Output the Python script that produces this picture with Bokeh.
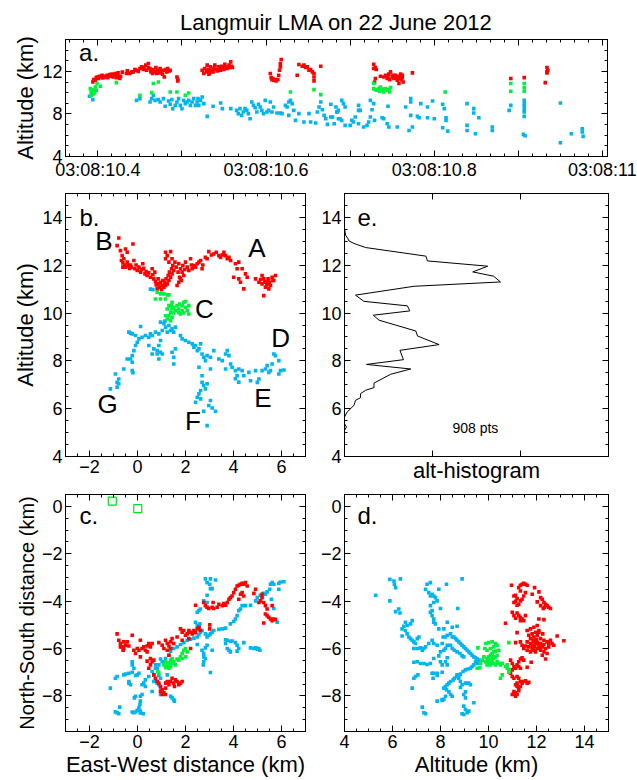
from bokeh.plotting import figure
from bokeh.layouts import column, row
from bokeh.models import Range1d, FixedTicker, LinearAxis, Label, CustomJSTickFormatter
from bokeh.embed import file_html
from bokeh.resources import INLINE

FONT = "Liberation Sans"
RED, GREEN, BLUE = "#ff0000", "#00f03c", "#00b4f0"
TITLE = "Langmuir LMA on 22 June 2012"

# ---------------- panel a: time (s after 03:08:00) vs altitude (km) ----------------
a_red = [(10.394,11.01),(10.395,11.23),(10.397,11.17),(10.398,11.39),(10.399,11.48),(10.401,11.33),(10.402,11.55),
 (10.403,11.48),(10.405,11.64),(10.406,11.39),(10.408,11.55),(10.409,11.48),(10.411,11.64),(10.412,11.42),(10.414,11.70),
 (10.415,11.55),(10.417,11.74),(10.418,11.48),(10.419,11.64),(10.421,11.80),(10.422,11.42),(10.423,11.61),(10.424,11.86),
 (10.426,11.33),(10.427,11.55),(10.429,11.93),(10.434,11.80),(10.435,12.05),(10.438,11.80),(10.440,11.93),(10.442,11.96),
 (10.444,12.18),(10.446,12.11),(10.448,11.99),(10.450,12.27),(10.452,12.43),(10.454,12.18),(10.455,12.37),(10.457,12.59),
 (10.458,12.11),(10.460,12.74),(10.460,12.37),(10.462,12.27),(10.463,11.96),(10.464,12.11),(10.465,11.80),(10.466,12.18),
 (10.468,11.96),(10.469,12.37),(10.470,11.80),(10.471,12.11),(10.473,11.86),(10.474,12.27),(10.475,11.96),(10.477,11.74),
 (10.478,12.11),(10.479,11.48),(10.481,12.18),(10.482,11.96),(10.483,12.27),(10.485,12.05),(10.486,12.11),(10.494,11.48),
 (10.495,11.26),(10.495,11.11),
 (10.524,12.11),(10.526,11.80),(10.527,12.27),(10.529,11.96),(10.530,12.59),(10.531,12.18),(10.533,11.86),(10.534,12.43),
 (10.535,12.11),(10.537,11.96),(10.538,12.27),(10.539,12.59),(10.541,12.18),(10.542,12.05),(10.543,12.43),(10.545,12.27),
 (10.546,12.11),(10.547,12.49),(10.548,12.34),(10.550,12.18),(10.551,12.68),(10.552,12.43),(10.554,12.27),(10.556,12.59),
 (10.557,12.37),(10.558,12.90),(10.559,12.49),(10.560,12.37),(10.532,11.74),
 (10.605,11.80),(10.606,11.42),(10.607,11.23),(10.608,11.33),(10.609,11.17),(10.611,11.23),(10.612,11.11),(10.614,11.23),
 (10.615,11.64),(10.616,12.11),(10.617,12.43),(10.617,12.74),(10.618,13.12),
 (10.639,12.65),(10.637,11.64),(10.643,12.49),(10.645,12.59),(10.647,12.37),(10.649,12.43),(10.651,12.11),(10.653,12.18),
 (10.655,11.96),(10.657,11.80),(10.657,11.48),(10.657,11.11),(10.665,12.49),
 (10.728,12.68),(10.728,12.27),(10.730,12.37),(10.731,12.18),(10.730,11.33),(10.729,11.01),(10.736,11.55),(10.740,11.48),
 (10.742,11.64),(10.744,11.33),(10.745,11.48),(10.746,11.74),(10.747,11.23),(10.748,11.96),(10.750,11.48),(10.751,11.64),
 (10.752,11.33),(10.754,11.64),(10.755,11.42),(10.756,11.17),(10.757,11.55),(10.758,11.48),(10.759,11.33),(10.760,11.74),
 (10.761,11.23),(10.762,11.64),(10.763,11.01),(10.758,10.86),(10.762,11.42),(10.774,11.86),
 (10.891,11.33),(10.907,11.42),(10.934,12.37),(10.935,12.11),(10.934,11.96),(10.934,11.86),(10.932,10.95)]
a_grn = [(10.391,10.38),(10.392,10.07),(10.393,10.23),(10.394,9.85),(10.392,9.76),(10.395,10.29),(10.396,9.97),
 (10.397,10.54),(10.398,10.23),(10.399,10.86),(10.403,10.60),(10.422,10.95),(10.450,9.76),(10.464,10.01),(10.466,10.86),
 (10.472,11.01),(10.486,10.07),(10.494,10.07),(10.504,9.76),(10.508,9.97),(10.629,10.07),(10.657,10.29),(10.665,9.82),
 (10.728,10.86),(10.728,10.38),(10.730,10.29),(10.732,10.23),(10.734,10.38),(10.735,10.13),(10.736,10.54),(10.738,10.23),
 (10.739,10.35),(10.740,10.07),(10.742,10.38),(10.744,10.23),(10.746,10.29),(10.747,10.07),(10.748,10.48),(10.813,10.07),
 (10.891,10.86),(10.891,10.13),(10.907,10.86),(10.907,10.48),(10.907,10.13)]
a_blu = [(10.390,9.66),(10.394,9.35),(10.446,9.28),(10.450,9.44),(10.464,9.44),(10.466,9.76),(10.462,9.13),(10.468,9.28),
 (10.472,9.35),(10.474,9.13),(10.478,9.44),(10.480,8.72),(10.484,9.22),(10.486,8.91),(10.488,9.35),(10.489,8.50),
 (10.492,8.81),(10.494,9.13),(10.496,9.44),(10.498,8.81),(10.500,8.50),(10.502,9.28),(10.504,8.97),(10.506,9.13),
 (10.508,9.28),(10.510,8.81),(10.512,9.13),(10.514,9.44),(10.516,8.81),(10.518,9.13),(10.520,8.81),(10.522,9.28),
 (10.524,9.60),(10.526,8.97),(10.519,9.44),(10.530,7.77),(10.537,8.72),(10.546,9.03),(10.548,8.50),(10.558,8.50),
 (10.565,8.34),(10.567,8.03),(10.569,8.50),(10.571,7.87),(10.573,8.18),(10.575,8.50),(10.577,8.34),(10.579,8.03),
 (10.581,7.55),(10.583,9.13),(10.585,8.81),(10.587,8.59),(10.589,8.18),(10.591,8.91),(10.593,8.65),(10.595,8.34),
 (10.597,8.03),(10.599,9.28),(10.601,8.18),(10.603,8.34),(10.605,9.13),(10.607,8.18),(10.609,8.65),(10.613,8.09),
 (10.617,8.09),(10.619,8.03),(10.623,8.81),(10.625,8.65),(10.627,9.13),(10.629,9.28),(10.631,8.97),(10.627,7.87),
 (10.633,8.34),(10.635,7.40),(10.639,8.03),(10.645,7.24),(10.651,8.03),(10.653,7.24),(10.659,7.15),(10.661,8.18),
 (10.663,8.65),(10.665,9.13),(10.667,8.40),(10.669,7.87),(10.671,7.55),(10.673,7.02),(10.677,7.71),(10.681,7.08),
 (10.683,8.65),(10.685,8.18),(10.686,7.55),
 (10.677,8.91),(10.679,7.71),(10.684,8.18),(10.686,8.34),(10.688,7.55),(10.690,9.28),(10.692,8.97),(10.694,8.65),
 (10.690,7.40),(10.694,6.93),(10.700,6.93),(10.702,7.40),(10.704,7.24),(10.706,7.71),(10.710,8.81),(10.710,8.34),
 (10.710,7.08),(10.712,8.34),(10.716,6.77),(10.720,6.93),(10.722,7.24),(10.724,7.71),(10.724,9.28),(10.726,8.40),
 (10.728,8.97),(10.729,7.40),(10.738,7.65),(10.740,7.55),(10.744,7.08),(10.745,8.72),(10.746,6.77),(10.756,6.77),
 (10.766,8.65),(10.770,6.45),(10.772,7.87),(10.774,6.77),(10.772,9.44),(10.772,9.13),(10.780,7.77),(10.782,7.65),
 (10.784,8.97),(10.792,8.65),(10.792,7.65),(10.798,9.22),(10.800,7.55),(10.810,8.91),(10.812,8.50),(10.814,7.40),
 (10.814,7.65),(10.810,6.71),(10.816,6.39),(10.839,8.97),(10.847,8.50),(10.847,8.09),(10.853,7.65),(10.839,6.93),
 (10.839,6.45),(10.849,6.14),(10.869,6.77),(10.869,6.45),(10.891,8.81),(10.889,8.34),(10.907,9.28),(10.907,8.97),
 (10.907,8.72),(10.907,8.40),(10.907,8.18),(10.907,7.77),(10.906,6.08),(10.908,5.95),(10.950,9.03),(10.950,5.29),
 (10.963,6.14),(10.976,6.61),(10.976,6.30),(10.977,5.89)]

# ---------------- panel b: East-West (km) vs altitude (km) ----------------
b_red = [(-0.78,13.14),(-0.19,12.89),(-0.85,12.82),(-0.71,12.61),(-0.50,12.68),(-0.43,12.54),(-0.64,12.40),(-0.57,12.27),
 (-0.67,12.20),(-0.61,12.10),(-0.53,12.01),(-0.50,11.92),(-0.61,11.92),(-0.43,12.13),(-0.39,11.99),(-0.33,11.87),
 (-0.29,12.01),(-0.25,11.92),(-0.15,12.20),(-0.11,11.85),(-0.06,12.01),(-0.01,11.78),(0.06,11.92),(0.13,11.71),
 (0.17,11.82),(0.22,12.06),(0.26,11.87),(0.31,11.64),(0.36,11.74),(0.40,11.57),(0.47,11.68),(0.54,11.50),(0.61,11.85),
 (0.64,11.60),(0.68,11.43),(0.72,11.71),(0.75,11.32),(0.78,11.18),(0.82,11.01),(0.86,11.43),(0.89,11.22),(0.92,11.08),
 (0.96,11.29),(1.00,10.98),(1.03,11.15),(1.06,11.36),(1.10,11.08),(1.14,11.26),(1.17,11.15),(1.19,11.43),(1.24,11.22),
 (1.28,11.57),(1.31,11.36),(1.33,11.71),(1.38,11.50),(1.42,11.85),(1.44,11.64),(1.47,11.99),(1.51,11.78),(1.56,12.13),
 (1.17,12.54),(1.24,12.40),(1.38,12.57),(1.17,12.27),(1.31,12.13),(1.44,12.27),(1.61,11.92),(1.69,11.71),(1.72,12.06),
 (1.75,11.50),(1.79,11.85),(1.83,11.36),(1.86,11.71),(1.89,11.99),(1.93,11.57),(1.79,11.43),(1.72,11.29),(1.65,11.15),
 (1.97,11.82),(2.00,12.13),(2.07,11.92),(2.14,11.78),(2.21,12.27),(2.25,12.01),(2.28,11.85),(2.35,11.99),(2.42,11.92),
 (2.49,12.06),(2.56,12.13),(2.63,12.20),(2.69,11.85),(2.72,12.01),(2.83,12.33),(2.90,12.27),(2.97,12.57),(3.08,12.43),
 (3.18,12.47),(3.28,12.54),(3.39,12.40),(3.46,12.33),(3.53,12.43),(3.60,12.54),(3.67,12.40),(3.74,12.27),(3.81,12.33),
 (3.88,12.20),(4.08,12.06),(4.22,12.13),(4.36,11.85),(4.15,11.85),(4.01,11.50),(4.22,11.43),(4.29,11.29),(4.43,11.01),
 (4.57,11.50),(4.50,11.64),(4.92,11.43),(5.06,11.29),(5.13,11.40),(5.19,11.57),(5.26,11.43),(5.31,11.32),(5.33,11.29),
 (5.38,11.18),(5.40,11.22),(5.44,11.43),(5.47,11.36),(5.50,11.26),(5.54,11.15),(5.61,11.50),(5.64,11.36),(5.68,11.36),
 (5.75,11.57),(5.33,11.08),(5.26,10.73),(5.47,11.01),(5.19,11.22)]
b_grn = [(0.82,10.87),(0.96,10.80),(1.10,10.80),(1.24,10.76),(1.31,10.76),(0.75,10.59),(0.96,10.59),(1.17,10.59),
 (1.44,10.45),(1.31,10.31),(1.24,10.17),(1.38,10.03),(1.31,9.89),(1.17,9.89),(1.24,9.75),(1.44,10.17),(1.51,10.24),
 (1.58,10.10),(1.72,10.17),(1.86,10.31),(1.93,10.45),(2.00,10.24),(2.07,10.10),(1.79,9.96),(1.93,10.00),(2.14,10.31),
 (2.14,9.96),(1.72,10.03),(1.86,10.10),(1.65,10.31),(1.44,9.82),(1.38,9.68),(1.51,10.00),(1.42,10.31),(2.00,10.48),
 (1.75,10.38)]
b_blu = [(0.54,11.00),(0.64,10.98),(0.96,9.62),(1.10,9.55),(1.17,9.41),(1.31,9.48),(1.44,9.34),(1.51,9.20),(1.58,9.41),
 (1.03,9.27),(1.24,9.20),(0.89,9.13),(0.75,9.20),(0.61,9.06),(0.47,8.99),(0.33,9.06),(0.19,8.99),(0.06,8.92),
 (-0.08,9.06),(-0.22,9.13),(-0.36,9.20),(-0.29,9.16),(0.13,9.44),(0.54,9.13),(1.38,9.27),(1.14,9.66),(-0.01,8.78),
 (-0.08,8.64),(-0.15,8.43),(-0.22,8.22),(-0.29,8.08),(-0.22,7.94),(-0.43,8.08),(-0.57,7.66),(-0.22,7.59),(-0.19,7.50),
 (-0.92,7.45),(-0.78,7.24),(-0.85,7.10),(-0.78,7.04),(-1.13,6.83),(-0.85,6.90),(0.96,8.85),(0.89,8.64),(0.82,8.43),
 (0.96,8.36),(0.82,8.29),(1.03,8.29),(0.89,8.08),(0.61,8.29),(0.47,8.64),(0.68,8.50),(1.44,8.36),(1.51,8.15),(1.51,7.87),
 (1.58,8.50),(1.79,9.06),(1.86,8.92),(2.00,8.85),(2.14,8.78),(2.28,8.71),(2.35,8.57),(2.42,8.64),(2.56,8.50),(2.63,8.71),
 (2.49,8.43),(2.69,8.29),(2.76,8.15),(2.90,8.22),(3.04,8.15),(3.18,8.43),(2.83,8.01),(2.56,7.73),(3.04,7.66),(3.39,8.08),
 (3.53,8.01),(3.67,8.29),(3.81,8.22),(3.74,8.43),(3.67,7.66),(3.88,7.87),(3.94,7.73),(4.08,7.59),(4.22,7.66),(4.15,7.38),
 (4.22,7.11),(4.08,7.25),(4.36,7.59),(4.43,7.38),(4.64,7.52),(4.71,7.17),(4.92,7.59),(4.99,7.10),(5.06,7.24),(5.19,7.59),
 (5.33,7.66),(5.40,7.80),(5.47,7.52),(5.54,7.59),(5.61,7.87),(5.68,8.29),(5.75,8.22),(5.89,8.01),(5.96,7.59),(6.10,7.62),
 (5.89,7.45),(2.69,7.38),(2.69,7.10),(2.76,6.97),(2.83,6.83),(2.90,7.04),(2.63,6.76),(2.56,6.62),(2.49,6.48),(2.63,6.41),
 (2.42,6.27),(3.04,6.34),(2.97,6.13),(3.11,6.03),(3.25,5.89),(2.76,5.89),(2.90,5.29)]

# ---------------- panel e: altitude histogram ----------------
hist_alt = [13.54, 13.26, 13.12, 13.02, 12.91, 12.74, 12.38, 12.18, 11.96, 11.72, 11.54, 11.30, 11.12, 10.75, 10.49,
            10.30, 10.09, 9.91, 9.70, 9.25, 9.04, 8.68, 8.44, 8.05, 7.85, 7.66, 7.44, 7.07, 6.88, 6.77, 6.63, 6.46,
            6.35, 6.14, 5.86, 5.65, 5.37, 5.23, 5.09, 4.00]
hist_count = [0, 0.5, 1.5, 2.0, 4.3, 9.6, 37.0, 37.7, 65.1, 58.3, 67.8, 70.9, 31.6, 5.0, 8.8,
              28.6, 29.7, 13.1, 15.7, 32.4, 33.2, 43.0, 25.2, 26.8, 10.0, 30.1, 21.0, 13.4, 13.4, 9.6, 7.3, 7.3,
              5.0, 4.3, 1.2, 0, 0, 0.9, 0, 0]
n_points = 908

# ---------------- panel c: East-West vs North-South (km) ----------------
c_red = [(-0.85,-5.38),(-0.78,-5.65),(-0.71,-5.79),(-0.64,-5.93),(-0.57,-6.00),(-0.50,-5.86),(-0.43,-5.72),(-0.36,-5.89),
 (-0.57,-5.72),(-0.71,-5.93),(-0.60,-6.07),(-0.22,-5.44),(-0.15,-6.07),(-0.08,-6.21),(-0.01,-6.00),(0.06,-6.07),
 (0.12,-5.65),(0.19,-6.00),(0.26,-5.93),(0.33,-6.07),(0.40,-5.89),(0.47,-5.79),(0.54,-5.93),(0.40,-6.14),(0.61,-5.79),
 (0.12,-6.35),(0.40,-6.53),(0.54,-6.42),(0.61,-6.56),(0.68,-6.49),(0.54,-6.69),(0.47,-6.83),(0.89,-5.75),(1.03,-5.86),
 (1.10,-6.00),(1.17,-5.65),(1.24,-5.79),(1.31,-5.89),(1.38,-5.72),(1.44,-5.58),(1.24,-6.07),(1.38,-6.00),(1.51,-5.79),
 (1.31,-6.28),(1.79,-5.17),(1.86,-5.31),(1.93,-5.24),(2.00,-5.44),(2.07,-5.38),(2.14,-5.24),(2.21,-5.31),(2.28,-5.38),
 (2.35,-5.24),(2.42,-5.33),(2.49,-5.17),(2.56,-5.10),(2.62,-5.24),(2.14,-5.58),(1.86,-5.65),(1.65,-5.51),(2.21,-6.00),
 (3.01,-5.00),(3.01,-5.17),(0.68,-7.11),(0.75,-7.25),(0.82,-7.39),(0.89,-7.46),(0.96,-7.60),(1.03,-7.74),(1.10,-7.87),
 (1.17,-7.94),(1.03,-7.94),(0.96,-7.81),(1.17,-7.46),(1.31,-7.53),(1.38,-7.39),(1.51,-7.46),(1.58,-7.32),(1.65,-7.39),
 (1.72,-7.53),(1.79,-7.46),(1.86,-7.39),(1.54,-7.60),(1.44,-7.25),(1.17,-7.67),(1.24,-7.39),(2.42,-4.17),(2.76,-4.06),
 (2.83,-4.19),(2.90,-4.26),(2.97,-4.31),(3.11,-4.26),(3.18,-4.31),(3.32,-4.26),(3.39,-4.13),(3.53,-4.19),(3.60,-4.10),
 (3.67,-4.17),(3.74,-4.06),(3.81,-3.92),(3.87,-3.85),(3.94,-3.78),(4.01,-3.64),(4.08,-3.50),(4.15,-3.36),(4.22,-3.33),
 (4.29,-3.29),(4.36,-3.25),(4.43,-3.29),(4.50,-3.22),(4.57,-3.36),(4.22,-3.92),(4.29,-3.71),(4.36,-3.64),(4.43,-3.78),
 (3.15,-4.06),(4.85,-3.67),(4.92,-3.50),(5.06,-4.06),(5.12,-3.99),(5.19,-3.85),(5.26,-4.06),(5.33,-4.19),(5.40,-4.33),
 (5.33,-4.54),(5.40,-4.61),(5.47,-4.68),(5.54,-4.75),(5.61,-4.82),(5.68,-4.75),(5.75,-4.78),(5.26,-4.92),(5.61,-4.19),
 (5.19,-3.71)]
c_grn = [(1.10,-6.69),(1.17,-6.56),(1.24,-6.76),(1.31,-6.62),(1.38,-6.49),(1.44,-6.62),(1.51,-6.56),(1.38,-6.76),
 (1.31,-6.83),(1.17,-6.81),(1.58,-6.69),(1.72,-6.49),(1.79,-6.35),(1.86,-6.21),(1.93,-6.07),(2.00,-6.00),(2.07,-6.14),
 (2.00,-6.35),(1.86,-6.42),(0.89,-7.04),(0.85,-6.97),(1.65,-6.44),(1.24,-6.62),(1.44,-6.42)]
c_blu = [(0.61,-6.97),(0.75,-6.83),(0.89,-6.69),(1.03,-6.56),(1.17,-6.42),(1.31,-6.28),(1.38,-6.11),(1.51,-6.00),
 (1.65,-5.93),(1.79,-5.83),(1.93,-5.75),(2.07,-5.65),(2.21,-5.61),(2.35,-5.56),(2.49,-5.51),(2.56,-5.42),(2.62,-5.31),
 (2.69,-5.24),(2.56,-5.10),(2.49,-5.03),(2.60,-4.96),(2.42,-4.89),(2.49,-4.47),(2.62,-4.33),(2.56,-4.40),(2.83,-5.38),
 (2.90,-5.51),(2.97,-5.44),(3.04,-5.38),(3.11,-5.31),(3.18,-5.24),(3.39,-5.19),(3.53,-5.17),(3.67,-5.14),(3.87,-4.96),
 (4.01,-4.86),(4.08,-4.75),(4.15,-4.61),(4.22,-4.40),(4.29,-4.33),(4.36,-4.19),(4.50,-4.19),(4.71,-4.17),(4.92,-3.99),
 (4.99,-3.85),(5.12,-3.75),(5.24,-3.67),(5.33,-3.71),(5.40,-3.61),(5.51,-3.50),(5.54,-3.29),(5.61,-3.22),(5.68,-3.29),
 (5.89,-3.25),(5.96,-3.19),(6.10,-3.18),(5.89,-3.50),(5.58,-3.92),(5.68,-4.31),(5.82,-4.89),(2.83,-3.06),(3.04,-3.06),
 (3.25,-3.11),(2.90,-3.22),(3.01,-3.29),(3.04,-3.47),(3.11,-3.47),(2.90,-3.75),(2.76,-3.99),(2.90,-4.06),(3.67,-5.63),
 (3.74,-5.65),(3.87,-5.69),(3.94,-5.68),(4.08,-5.75),(4.15,-5.86),(4.22,-6.00),(4.15,-6.11),(3.67,-5.79),(3.74,-6.00),
 (3.81,-6.07),(3.87,-6.14),(4.43,-5.75),(4.71,-5.97),(4.85,-6.00),(4.92,-5.97),(4.99,-6.03),(5.05,-6.00),(5.10,-6.07),
 (2.69,-6.07),(2.76,-6.21),(2.76,-6.35),(2.83,-6.42),(2.76,-6.56),(2.74,-6.69),(2.83,-5.97),(2.90,-5.86),(3.04,-7.01),
 (3.11,-6.07),(2.49,-5.83),(0.96,-6.44),(0.75,-6.69),(0.82,-6.83),(0.68,-7.11),(0.75,-7.32),(0.82,-7.46),(0.89,-7.53),
 (0.96,-7.67),(1.03,-7.81),(0.96,-7.94),(0.61,-7.81),(0.68,-7.39),(0.47,-7.18),(0.33,-7.32),(0.26,-7.46),(0.33,-7.60),
 (0.19,-7.53),(0.06,-7.04),(-0.01,-7.11),(-0.08,-7.14),(-0.22,-7.00),(-0.36,-7.04),(-0.50,-7.08),(-0.57,-7.11),
 (-0.85,-7.18),(-0.92,-7.25),(-1.13,-7.67),(-0.36,-7.46),(-0.29,-7.53),(-0.36,-7.39),(-0.22,-6.56),(-0.22,-6.69),
 (-0.15,-6.83),(0.19,-7.94),(0.12,-8.01),(-0.08,-8.01),(-0.13,-8.08),(0.12,-8.22),(0.10,-8.36),(0.06,-8.50),(0.12,-8.64),
 (-0.74,-8.47),(-0.92,-8.67),(-0.85,-8.71),(-0.78,-8.75),(-0.22,-8.68),(-0.15,-8.71),(-0.08,-8.68),(-0.01,-8.61),
 (0.12,-8.72),(0.24,-8.75),(1.38,-8.01),(1.44,-8.08),(1.51,-8.15),(1.54,-8.22),(1.24,-7.11),(0.89,-7.14),(0.96,-7.25)]
c_stations = [(-1.05, 0.22), (0.01, -0.10), (-0.64, 0.68)]

# ---------------- panel d: altitude vs North-South (km) ----------------
d_red = [(10.96,-3.33),(11.06,-3.78),(11.13,-3.75),(11.19,-3.89),(11.06,-4.06),(11.13,-4.01),(11.19,-4.17),(11.26,-4.13),
 (11.33,-3.99),(11.40,-3.92),(11.47,-3.78),(11.54,-3.64),(11.33,-3.57),(11.26,-3.43),(11.33,-3.33),(11.40,-3.29),
 (11.47,-3.25),(11.54,-3.29),(11.61,-3.33),(11.92,-3.43),(12.10,-3.61),(12.17,-3.85),(12.24,-3.92),(12.31,-4.06),
 (12.38,-4.13),(12.44,-4.19),(12.51,-4.26),(12.58,-4.31),(12.33,-4.26),(12.17,-4.19),(12.28,-4.31),(12.03,-4.03),
 (11.82,-3.71),(10.99,-4.47),(11.06,-4.61),(11.13,-4.72),(11.19,-4.50),(11.26,-4.61),(11.33,-4.68),(11.40,-4.75),
 (11.47,-4.82),(11.33,-4.82),(11.54,-4.61),(12.10,-4.75),(12.31,-4.78),(10.71,-4.93),(11.19,-5.33),(11.61,-5.24),
 (11.75,-5.17),(11.89,-5.10),(12.03,-5.03),(12.10,-5.24),(11.96,-5.31),(11.82,-5.38),(11.68,-5.44),(11.75,-5.58),
 (11.89,-5.51),(12.03,-5.44),(12.17,-5.58),(12.31,-5.65),(12.44,-5.72),(12.58,-5.65),(12.65,-5.79),(12.51,-5.93),
 (12.38,-6.00),(12.24,-5.93),(12.10,-5.86),(11.96,-5.79),(11.82,-5.86),(11.68,-5.93),(11.54,-5.89),(11.40,-5.86),
 (11.47,-6.00),(11.61,-6.07),(11.75,-6.14),(11.89,-6.07),(12.03,-6.00),(12.17,-6.07),(12.31,-6.14),(12.44,-6.21),
 (12.24,-6.28),(12.38,-6.44),(12.51,-5.79),(12.72,-5.86),(12.86,-5.47),(13.14,-5.67),(12.10,-5.31),(12.26,-5.38),
 (11.13,-5.75),(11.33,-5.72),(11.61,-5.72),(11.86,-5.65),(12.00,-5.61),(11.89,-5.72),(12.03,-5.75),(12.17,-5.79),
 (12.31,-5.83),(11.75,-5.79),(11.92,-5.93),(12.14,-5.97),(11.82,-6.00),(11.96,-6.14),(10.92,-6.49),(10.99,-6.63),
 (11.06,-6.76),(11.13,-6.83),(11.19,-6.69),(11.26,-6.56),(11.33,-6.44),(11.40,-6.39),(11.47,-6.49),(11.26,-6.76),
 (11.33,-6.83),(11.61,-6.79),(11.78,-6.58),(10.99,-6.90),(10.92,-7.04),(10.99,-7.18),(11.06,-7.25),(11.19,-7.18),
 (11.26,-7.25),(11.33,-7.39),(11.40,-7.46),(11.47,-7.39),(11.54,-7.36),(11.61,-7.46),(11.68,-7.42),(11.19,-7.46),
 (11.13,-7.53),(11.19,-7.60),(11.26,-7.67),(11.33,-7.60),(11.06,-7.81),(11.13,-7.87),(11.19,-7.94),(11.06,-7.92),
 (10.99,-7.94),(11.13,-8.01),(11.26,-7.78)]
d_grn = [(9.88,-5.79),(10.01,-5.75),(10.15,-5.72),(10.29,-5.79),(10.36,-5.86),(10.22,-5.93),(10.08,-6.00),(9.94,-6.07),
 (9.85,-6.00),(9.56,-5.97),(9.81,-6.35),(9.94,-6.42),(10.01,-6.35),(10.08,-6.28),(10.15,-6.21),(10.22,-6.14),
 (10.29,-6.11),(10.43,-6.07),(10.36,-6.28),(10.29,-6.35),(10.22,-6.42),(10.15,-6.49),(10.08,-6.56),(10.01,-6.63),
 (9.94,-6.69),(10.08,-6.69),(10.22,-6.63),(10.29,-6.69),(10.36,-6.56),(10.43,-6.63),(10.50,-6.69),(10.57,-6.62),
 (9.74,-6.49),(9.67,-6.63),(9.64,-6.81),(9.88,-6.56),(10.85,-5.75),(10.78,-6.69),(10.71,-6.76),(10.78,-6.83),
 (10.85,-6.90),(10.85,-7.00),(10.57,-7.11),(10.50,-7.25),(9.53,-6.83),(10.01,-6.49),(10.15,-6.35)]
d_blu = [(5.30,-3.75),(5.89,-3.08),(6.06,-3.15),(6.08,-3.29),(6.13,-3.43),(6.33,-3.06),(5.89,-3.99),(6.13,-4.44),
 (6.26,-4.33),(6.31,-4.50),(6.54,-4.89),(6.61,-5.03),(6.47,-5.06),(6.40,-5.17),(6.54,-5.24),(6.61,-5.38),(6.75,-4.96),
 (6.82,-4.82),(6.40,-5.47),(6.68,-5.51),(6.75,-5.58),(6.82,-5.65),(6.89,-5.72),(6.96,-5.79),(7.03,-5.58),(7.10,-5.51),
 (6.89,-6.00),(7.03,-6.00),(7.17,-5.97),(7.31,-6.00),(7.24,-6.07),(7.38,-5.93),(7.51,-5.79),(7.65,-5.65),(7.72,-5.79),
 (7.86,-5.86),(7.03,-6.56),(6.89,-6.58),(7.17,-6.63),(7.31,-6.63),(7.44,-6.67),(7.58,-6.63),(7.72,-6.42),(7.65,-7.04),
 (7.86,-7.04),(8.07,-7.00),(8.07,-6.69),(8.00,-6.56),(7.93,-6.31),(8.00,-6.14),(8.14,-6.07),(8.21,-6.00),(8.28,-5.86),
 (8.07,-5.79),(8.11,-5.51),(8.21,-5.51),(8.28,-5.44),(8.42,-5.38),(8.49,-5.51),(8.56,-5.51),(8.63,-5.58),(8.69,-5.65),
 (8.76,-5.72),(8.83,-5.79),(8.90,-5.86),(8.97,-5.93),(9.04,-6.00),(9.11,-6.07),(9.18,-6.14),(9.25,-6.21),(9.32,-6.28),
 (9.39,-6.35),(9.46,-6.39),(9.53,-6.44),(9.60,-6.49),(9.46,-6.56),(9.53,-6.63),(9.39,-6.69),(9.32,-6.76),(9.25,-6.83),
 (9.14,-6.86),(9.04,-6.90),(8.94,-6.97),(8.83,-7.08),(8.76,-7.14),(8.67,-7.18),(8.58,-7.25),(8.53,-7.32),(8.42,-7.39),
 (8.35,-7.46),(8.28,-7.53),(8.21,-7.60),(8.14,-7.67),(8.25,-7.74),(8.35,-7.83),(8.42,-7.94),(8.49,-8.01),(8.21,-8.01),
 (8.14,-8.15),(8.07,-8.15),(8.69,-7.11),(8.83,-7.39),(8.90,-7.53),(9.04,-7.46),(9.18,-7.46),(9.25,-7.53),(8.83,-7.64),
 (8.76,-7.25),(9.04,-7.83),(8.97,-7.94),(9.04,-8.08),(9.39,-8.29),(8.97,-8.43),(9.04,-8.57),(9.18,-8.64),(9.11,-8.71),
 (8.97,-8.78),(8.90,-8.75),(7.24,-8.47),(7.31,-8.71),(7.38,-8.75),(7.86,-8.22),(8.07,-8.19),(6.89,-7.25),(6.96,-7.18),
 (7.06,-7.11),(6.82,-7.67),(7.72,-7.04),(7.69,-7.25),(7.86,-7.14),(8.25,-3.29),(8.72,-4.31),(7.58,-3.22),(7.44,-3.29),
 (7.38,-3.50),(7.51,-3.64),(7.65,-3.71),(7.72,-3.78),(7.58,-3.78),(7.79,-3.85),(7.86,-3.99),(7.72,-4.06),(7.58,-4.19),
 (7.65,-4.40),(7.58,-4.47),(7.65,-4.61),(7.72,-4.75),(7.72,-4.89),(7.79,-4.96),(7.93,-5.17),(8.14,-5.17),(8.28,-4.89),
 (8.00,-4.31),(8.49,-5.10),(8.69,-5.06),(8.90,-3.06),(7.93,-3.50),(8.42,-5.86),(8.49,-6.00),(8.58,-6.07),(8.69,-6.14),
 (8.81,-6.21),(8.90,-6.31),(8.97,-6.35),(8.28,-6.39),(8.21,-6.56),(8.28,-6.69)]

# letters marking branches in panel b
b_letters = ["A", "B", "C", "D", "E", "F", "G"]
b_letter_x = [4.98, -1.40, 2.79, 5.96, 5.23, 2.31, -1.25]
b_letter_y = [12.70, 13.03, 10.19, 8.97, 6.46, 5.50, 6.21]


def xs(pts):
    return [p[0] for p in pts]


def ys(pts):
    return [p[1] for p in pts]


def steps(lo, hi, step):
    n = int(round((hi - lo) / step))
    return [round(lo + i * step, 5) for i in range(n + 1)]


def make_fig(fw, fh, xr, yr, bl, br, bt, bb):
    p = figure(frame_width=fw, frame_height=fh, x_range=Range1d(*xr), y_range=Range1d(*yr),
               min_border_left=bl, min_border_right=br, min_border_top=bt, min_border_bottom=bb,
               toolbar_location=None, output_backend="svg", tools="")
    p.grid.visible = False
    p.outline_line_color = "black"
    p.outline_line_width = 1
    p.outline_line_alpha = 1
    p.background_fill_color = "white"
    p.border_fill_color = "white"
    return p


def style_axis(ax, major, minor, label=None, label_size="22px"):
    ax.ticker = FixedTicker(ticks=major, minor_ticks=minor)
    ax.major_tick_in = 6
    ax.major_tick_out = 0
    ax.minor_tick_in = 3
    ax.minor_tick_out = 0
    ax.axis_line_color = "black"
    ax.major_tick_line_color = "black"
    ax.minor_tick_line_color = "black"
    ax.major_label_text_font = FONT
    ax.major_label_text_color = "black"
    ax.major_label_text_font_size = "18px"
    ax.major_label_standoff = 3
    ax.axis_label_text_font = FONT
    ax.axis_label_text_font_size = label_size
    ax.axis_label_text_font_style = "normal"
    ax.axis_label_text_color = "black"
    ax.axis_label_standoff = 1
    if label:
        ax.axis_label = label


def tick_axis(positions, length):
    # an axis that draws only inward tick marks (no labels at all)
    return LinearAxis(ticker=FixedTicker(ticks=[], minor_ticks=positions),
                      minor_tick_in=length, minor_tick_out=0, major_tick_in=0, major_tick_out=0,
                      major_label_standoff=0, axis_line_color="black", minor_tick_line_color="black")


def mirror(p, side, major, minor):
    p.add_layout(tick_axis(major, 6), side)
    p.add_layout(tick_axis(minor, 3), side)


def dots(p, pts, color):
    p.scatter(xs(pts), ys(pts), marker="square", size=3.6, fill_color=color, line_color=None)


def tag(p, x, y, text, size="24px"):
    p.add_layout(Label(x=x, y=y, text=text, text_font=FONT, text_font_size=size,
                       text_align="left", text_baseline="middle", text_color="black"))


ALT_MAJ, ALT_MIN = steps(4, 14, 2), steps(4, 15, 0.5)
EW_MAJ, EW_MIN = steps(-2, 6, 2), steps(-3, 7, 0.5)
NS_MAJ, NS_MIN = steps(-8, 0, 2), steps(-9.5, 0.5, 0.5)
T_MAJ = steps(10.4, 11.0, 0.1)
T_LAB = steps(10.4, 11.0, 0.2)
T_MIN = [round(10.4 + k / 60, 5) for k in range(-2, 37)]

# ---- a ----
pa = make_fig(542, 117, (10.3615, 11.006), (4, 15), 65, 30, 39, 35)
style_axis(pa.below[0], T_LAB, T_MIN)
pa.below[0].formatter = CustomJSTickFormatter(code="""
const k = Math.round(tick * 10);
if (k == 110) return '03:08:11';
return '03:08:' + (k / 10).toFixed(1);
""")
mid_ticks = tick_axis([t for t in T_MAJ if t not in T_LAB], 6)
pa.add_layout(mid_ticks, "below")
pa.below = [mid_ticks] + [a for a in pa.below if a is not mid_ticks]
style_axis(pa.left[0], [4, 8, 12], [5, 6, 7, 9, 10, 11, 13, 14, 15], "Altitude (km)")
mirror(pa, "above", T_MAJ, T_MIN)
mirror(pa, "right", [4, 8, 12], [5, 6, 7, 9, 10, 11, 13, 14, 15])
pa.title.text = TITLE
pa.title.align = "center"
pa.title.text_font = FONT
pa.title.text_font_size = "22px"
pa.title.text_font_style = "normal"
pa.title.text_color = "black"
pa.title.standoff = 9
dots(pa, a_blu, BLUE)
dots(pa, a_red, RED)
dots(pa, a_grn, GREEN)
tag(pa, 10.3777, 13.81, "a.")

# ---- b ----
pb = make_fig(240, 263, (-3, 7), (4, 15), 65, 5, 2, 36)
style_axis(pb.below[0], EW_MAJ, EW_MIN)
style_axis(pb.left[0], ALT_MAJ, ALT_MIN, "Altitude (km)")
mirror(pb, "above", EW_MAJ, EW_MIN)
mirror(pb, "right", ALT_MAJ, ALT_MIN)
dots(pb, b_blu, BLUE)
dots(pb, b_red, RED)
dots(pb, b_grn, GREEN)
tag(pb, -2.42, 14.0, "b.")
for t, x, y in zip(b_letters, b_letter_x, b_letter_y):
    pb.add_layout(Label(x=x, y=y, text=t, text_font=FONT, text_font_size="26px",
                        text_align="center", text_baseline="middle", text_color="black"))

# ---- e ----
pe = make_fig(264, 263, (0, 120), (4, 15), 34, 29, 2, 36)
style_axis(pe.below[0], [], [40, 80], "alt-histogram")
pe.below[0].minor_tick_in = 6
style_axis(pe.left[0], ALT_MAJ, ALT_MIN)
mirror(pe, "above", [40, 80], [])
mirror(pe, "right", ALT_MAJ, ALT_MIN)
pe.line(hist_count, hist_alt, line_color="black", line_width=1)
tag(pe, 5.9, 14.0, "e.")
pe.add_layout(Label(x=59.5, y=5.19, text=f"{n_points} pts", text_font=FONT, text_font_size="14px",
                    text_align="center", text_baseline="middle", text_color="black"))

# ---- c ----
pc = make_fig(240, 237, (-3, 7), (-9.5, 0.5), 65, 5, 2, 49)
style_axis(pc.below[0], EW_MAJ, EW_MIN, "East-West distance (km)")
style_axis(pc.left[0], NS_MAJ, NS_MIN, "North-South distance (km)", label_size="20px")
mirror(pc, "above", EW_MAJ, EW_MIN)
mirror(pc, "right", NS_MAJ, NS_MIN)
dots(pc, c_blu, BLUE)
dots(pc, c_red, RED)
dots(pc, c_grn, GREEN)
pc.scatter(xs(c_stations), ys(c_stations), marker="square", size=8, fill_color=None,
           line_color="#00e020", line_width=1.2)
tag(pc, -2.42, -0.375, "c.")

# ---- d ----
pd_ = make_fig(264, 237, (4, 15), (-9.5, 0.5), 34, 29, 2, 49)
style_axis(pd_.below[0], ALT_MAJ, ALT_MIN, "Altitude (km)")
style_axis(pd_.left[0], NS_MAJ, NS_MIN)
mirror(pd_, "above", ALT_MAJ, ALT_MIN)
mirror(pd_, "right", NS_MAJ, NS_MIN)
dots(pd_, d_blu, BLUE)
dots(pd_, d_red, RED)
dots(pd_, d_grn, GREEN)
tag(pd_, 4.54, -0.375, "d.")

layout = column(pa, row(pb, pe), row(pc, pd_))
open("out.html", "w").write(file_html(layout, INLINE, title=TITLE))
